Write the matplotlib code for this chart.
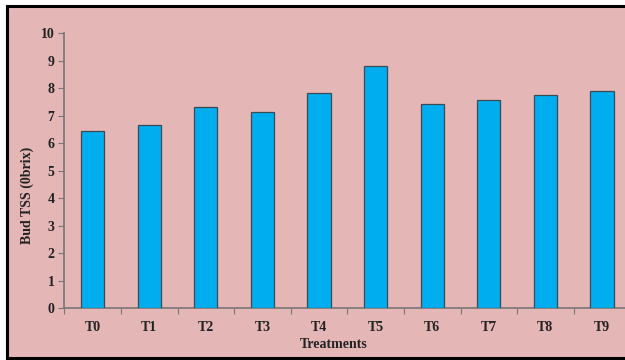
import matplotlib.pyplot as plt
import numpy as np
from matplotlib.patches import Rectangle

treatments = ["T0", "T1", "T2", "T3", "T4", "T5", "T6", "T7", "T8", "T9"]
bud_tss = [6.44, 6.68, 7.32, 7.14, 7.82, 8.80, 7.42, 7.59, 7.75, 7.90]

W, H = 625, 360
bg = "#E4B6B6"
bar_color = "#00AEEF"
font = "Liberation Serif"

fig = plt.figure(figsize=(W / 100, H / 100), dpi=100)
fig.patch.set_facecolor("white")

# pink panel with a black frame, running off the right edge
fig.patches.append(Rectangle((7 / W, 2 / H), 1.05, (356 - 6 + 2) / H,
                             transform=fig.transFigure, facecolor=bg,
                             edgecolor="black", linewidth=2.2, zorder=-1))

ax = fig.add_axes([64.3 / W, 1 - 308.3 / H, 566 / W, 275 / H])
ax.set_facecolor("none")
ax.set_zorder(1)

x = np.arange(len(treatments)) + 0.5
ax.bar(x, bud_tss, width=0.41, color=bar_color, edgecolor="#3a4a55",
       linewidth=0.9, zorder=3)

ax.set_xlim(0, len(treatments))
ax.set_ylim(0, 10)
ax.set_yticks(range(0, 11))
ax.set_xticks(range(0, len(treatments) + 1))
ax.set_xticklabels([])
ax.set_xticks(x, minor=True)
ax.set_xticklabels(treatments, minor=True)
ax.tick_params(axis="x", which="minor", length=0, pad=9)
ax.tick_params(axis="x", which="major", length=4, direction="out", color="#777777")
ax.tick_params(axis="y", length=4, direction="out", color="#777777", pad=3)

for lab in ax.get_xticklabels(minor=True) + ax.get_yticklabels():
    lab.set_fontfamily(font)
    lab.set_fontweight("bold")
    lab.set_fontsize(10)
    lab.set_color("#222222")

for side in ["top", "right"]:
    ax.spines[side].set_visible(False)
for side in ["left", "bottom"]:
    ax.spines[side].set_color("#777777")
    ax.spines[side].set_linewidth(1.2)

fig.text(334 / W, 1 - 345 / H, "Treatments", ha="center", va="center",
         fontfamily=font, fontweight="bold", fontsize=10, color="#222222")
fig.text(27 / W, 1 - 195 / H, "Bud TSS (0brix)", ha="center", va="center",
         rotation=90, fontfamily=font, fontweight="bold", fontsize=10,
         color="#222222")

fig.savefig("out.png", dpi=100)
